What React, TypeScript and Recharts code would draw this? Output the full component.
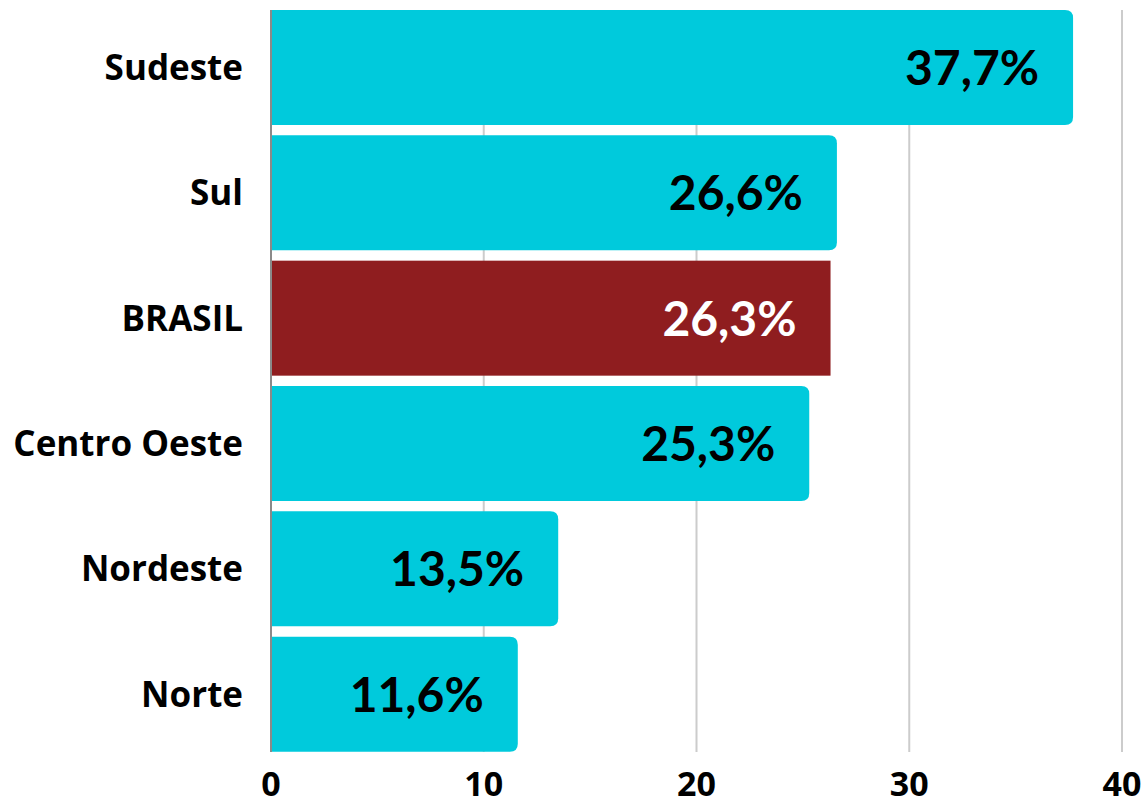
import React from 'react';
import { BarChart, Bar, XAxis, YAxis, CartesianGrid, LabelList } from 'recharts';

const regions = ['Sudeste', 'Sul', 'BRASIL', 'Centro Oeste', 'Nordeste', 'Norte'];
const shares = [37.7, 26.6, 26.3, 25.3, 13.5, 11.6];
const xTicks = [0, 10, 20, 30, 40];
const highlight = 'BRASIL';

const CYAN = '#00CADC';
const RED = '#8F1D1F';

const data = regions.map((name, i) => ({ name, value: shares[i] }));

const BarShape = (props: any) => {
  const { x, y, width, height, payload } = props;
  if (payload && payload.name === highlight) {
    return <rect x={x} y={y} width={width} height={height} fill={RED} />;
  }
  const r = Math.min(8, width / 2, height / 2);
  const d = `M${x},${y} L${x + width - r},${y} Q${x + width},${y} ${x + width},${y + r} L${x + width},${y + height - r} Q${x + width},${y + height} ${x + width - r},${y + height} L${x},${y + height} Z`;
  return <path d={d} fill={CYAN} />;
};

const ValueLabel = (props: any) => {
  const { x, y, width, height, value, index } = props;
  const isHi = regions[index] === highlight;
  const text = Number(value).toFixed(1).replace('.', ',') + '%';
  return (
    <text
      x={x + width - 34}
      y={y + height / 2 - 1}
      textAnchor="end"
      dominantBaseline="central"
      fontFamily="Lato, sans-serif"
      fontWeight={700}
      fontSize={48}
      fill={isHi ? '#ffffff' : '#000000'}
    >
      {text}
    </text>
  );
};

export default function App() {
  return (
    <div style={{ padding: '8px 0 0 8px', width: 1136, height: 794 }}>
      <style>{'html{overflow:hidden;} body{margin:0;}'}</style>
      <BarChart
        width={1136}
        height={794}
        data={data}
        layout="vertical"
        margin={{ top: 2, right: 22, left: 0, bottom: 0 }}
        style={{ overflow: 'visible' }}
      >
        <CartesianGrid horizontal={false} stroke="#cccccc" strokeWidth={2} />
        <XAxis
          type="number"
          domain={[0, 40]}
          ticks={xTicks}
          axisLine={false}
          tickLine={false}
          tickSize={0}
          tickMargin={20}
          height={50}
          interval={0}
          tick={{ fontFamily: '"Open Sans", sans-serif', fontWeight: 700, fontSize: 34, fill: '#000' }}
        />
        <YAxis
          type="category"
          dataKey="name"
          width={263}
          axisLine={{ stroke: '#8a8a8a', strokeWidth: 2 }}
          tickLine={false}
          tickSize={0}
          tickMargin={28}
          padding={{ top: -5, bottom: -5 }}
          interval={0}
          tick={{ fontFamily: '"Open Sans", sans-serif', fontWeight: 700, fontSize: 35, fill: '#000' }}
        />
        <Bar dataKey="value" barSize={115} shape={BarShape} isAnimationActive={false}>
          <LabelList dataKey="value" content={ValueLabel} />
        </Bar>
      </BarChart>
    </div>
  );
}
